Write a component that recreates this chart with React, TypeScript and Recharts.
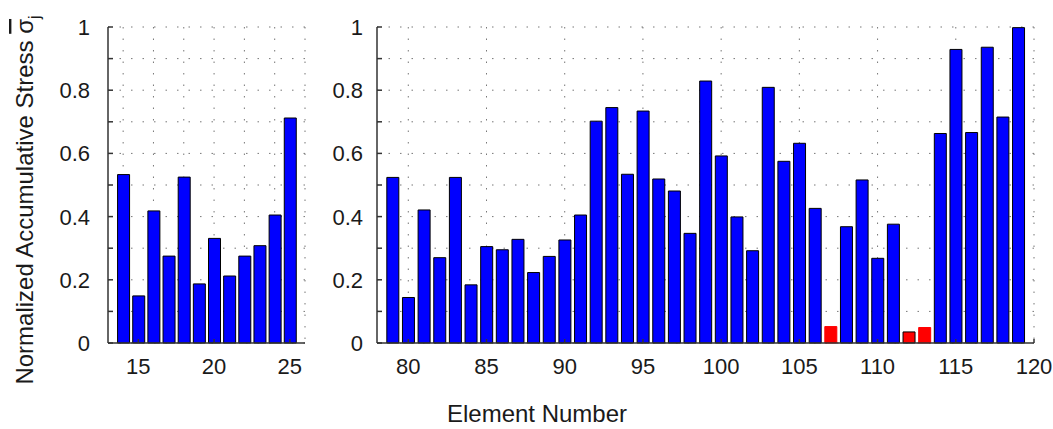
import { BarChart, Bar, XAxis, YAxis, CartesianGrid, Cell } from 'recharts'

const FONT = '"Liberation Sans", Arial, sans-serif'

// element numbers and normalized stress, left group
const leftElements = [14, 15, 16, 17, 18, 19, 20, 21, 22, 23, 24, 25]
const leftStress = [0.533, 0.149, 0.418, 0.275, 0.525, 0.187, 0.331, 0.212, 0.275, 0.308, 0.405, 0.712]

// right group
const rightElements = [
  79, 80, 81, 82, 83, 84, 85, 86, 87, 88, 89, 90, 91, 92, 93, 94, 95, 96, 97, 98, 99,
  100, 101, 102, 103, 104, 105, 106, 107, 108, 109, 110, 111, 112, 113, 114, 115, 116, 117, 118, 119,
]
const rightStress = [
  0.524, 0.144, 0.421, 0.27, 0.524, 0.184, 0.305, 0.295, 0.328, 0.223, 0.274, 0.326, 0.405, 0.702,
  0.745, 0.534, 0.734, 0.519, 0.481, 0.347, 0.829, 0.592, 0.399, 0.292, 0.809, 0.575, 0.632, 0.426,
  0.052, 0.368, 0.516, 0.268, 0.376, 0.035, 0.049, 0.663, 0.929, 0.666, 0.936, 0.715, 0.998,
]

// highlighted elements (red), and which of them have no black outline
const redElements = [107, 112, 113]
const unoutlined = [107, 113]

const yTicks = [0, 0.1, 0.2, 0.3, 0.4, 0.5, 0.6, 0.7, 0.8, 0.9, 1]
const leftXTicks = [15, 20, 25]
const leftGridX = [14, 16, 18, 20, 22, 24, 26]
const rightXTicks = [80, 85, 90, 95, 100, 105, 110, 115, 120]

const AXIS = '#333'
const axisStyle = { stroke: AXIS, strokeWidth: 1.5 }
const X_MARGIN = 15

// tick text plus a short inward tick mark, like the matlab axes
const makeYTick = (margin: number) => (props: any) => {
  const { x, y, payload } = props
  const v = payload.value as number
  const label = Math.round(v * 10) % 2 === 0 ? String(v) : ''
  const ax = x + margin
  return (
    <g>
      <line x1={ax} x2={ax + 5} y1={y} y2={y} stroke={AXIS} strokeWidth={1.5} />
      <text x={x} y={y} dy="0.36em" textAnchor="end" fontSize={22} fill="#1a1a1a" fontFamily={FONT}>
        {label}
      </text>
    </g>
  )
}

const XTick = (props: any) => {
  const { x, y, payload } = props
  const ay = y - X_MARGIN
  return (
    <g>
      <line x1={x} x2={x} y1={ay} y2={ay - 4} stroke={AXIS} strokeWidth={1.5} />
      <text x={x} y={y} dy="0.71em" textAnchor="middle" fontSize={22} fill="#1a1a1a" fontFamily={FONT}>
        {payload.value}
      </text>
    </g>
  )
}

interface PanelProps {
  elements: number[]
  values: number[]
  domain: [number, number]
  xTicks: number[]
  gridX: number[]
  width: number
  yWidth: number
  right: number
  yTickMargin: number
}

function Panel({ elements, values, domain, xTicks, gridX, width, yWidth, right, yTickMargin }: PanelProps) {
  const data = elements.map((e, i) => ({ element: e, stress: values[i] }))
  return (
    <BarChart width={width} height={429} data={data} margin={{ top: 27, right, bottom: 0, left: 0 }}>
      <CartesianGrid stroke="#777" strokeDasharray="1.5 10" verticalValues={gridX} syncWithTicks />
      <XAxis
        type="number"
        dataKey="element"
        domain={domain}
        ticks={xTicks}
        interval={0}
        allowDataOverflow
        height={86}
        axisLine={axisStyle}
        tickLine={false}
        tickSize={0}
        tickMargin={X_MARGIN}
        tick={XTick}
      />
      <YAxis
        type="number"
        domain={[0, 1]}
        ticks={yTicks}
        interval={0}
        width={yWidth}
        axisLine={axisStyle}
        tickLine={false}
        tickSize={0}
        tickMargin={yTickMargin}
        tick={makeYTick(yTickMargin)}
      />
      <Bar dataKey="stress" barSize={12} isAnimationActive={false}>
        {data.map((d) => (
          <Cell
            key={d.element}
            fill={redElements.includes(d.element) ? '#ff0000' : '#0000ff'}
            stroke={unoutlined.includes(d.element) ? '#ff0000' : '#000'}
            strokeWidth={1}
          />
        ))}
      </Bar>
    </BarChart>
  )
}

export default function App() {
  return (
    <div
      style={{
        position: 'absolute',
        left: 0,
        top: 0,
        width: 1053,
        height: 429,
        background: '#fff',
        fontFamily: FONT,
      }}
    >
      <div style={{ position: 'absolute', left: 0, top: 0 }}>
        <Panel
          elements={leftElements}
          values={leftStress}
          domain={[13, 26]}
          xTicks={leftXTicks}
          gridX={leftGridX}
          width={330}
          yWidth={108}
          right={25}
          yTickMargin={18}
        />
      </div>
      <div style={{ position: 'absolute', left: 330, top: 0 }}>
        <Panel
          elements={rightElements}
          values={rightStress}
          domain={[78, 120]}
          xTicks={rightXTicks}
          gridX={rightXTicks}
          width={723}
          yWidth={47}
          right={19}
          yTickMargin={14}
        />
      </div>
      <svg
        width={1053}
        height={429}
        style={{ position: 'absolute', left: 0, top: 0, pointerEvents: 'none' }}
      >
        <text
          x={33}
          y={200}
          transform="rotate(-90, 33, 200)"
          textAnchor="middle"
          fontSize={24}
          fill="#1a1a1a"
          fontFamily={FONT}
        >
          Normalized Accumulative Stress{' '}
          <tspan textDecoration="overline">σ</tspan>
          <tspan fontSize={16} dy={7}>j</tspan>
        </text>
        <text x={537} y={422} textAnchor="middle" fontSize={24} fill="#1a1a1a" fontFamily={FONT}>
          Element Number
        </text>
      </svg>
    </div>
  )
}
